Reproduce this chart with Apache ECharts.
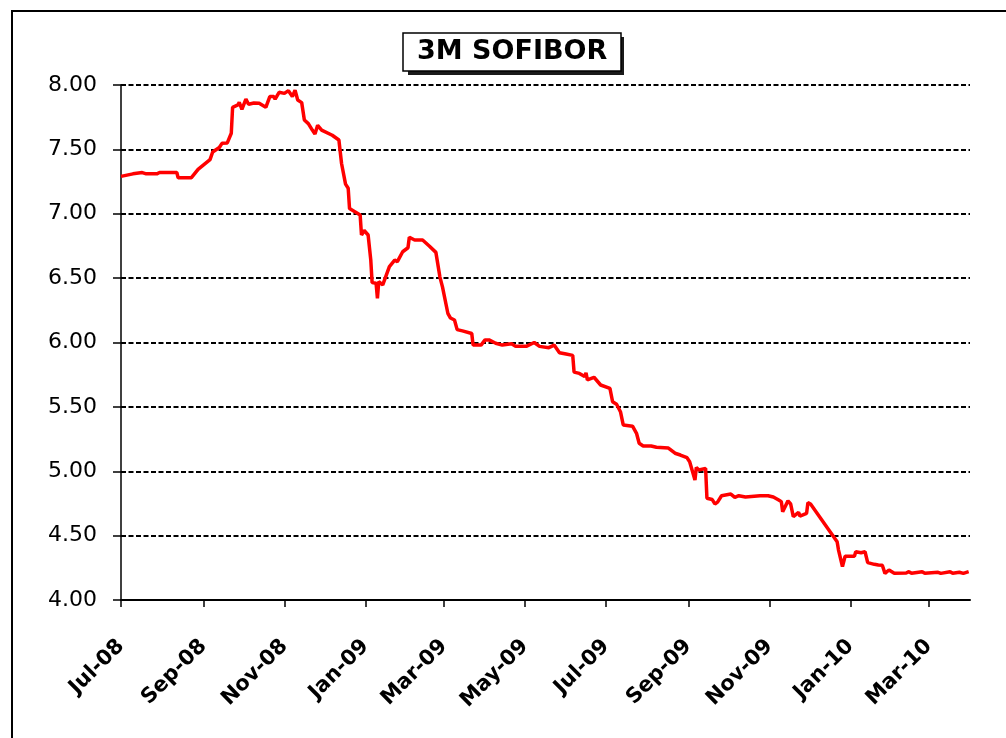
<!DOCTYPE html>
<html lang="en">
	<head>
		<meta charset="UTF-8">
		<title>3M SOFIBOR</title>
		<style>
			html, body { margin: 0; padding: 0; background: #fff; }
		</style>
	</head>

	<body>
		<!-- chart container -->
		<div id="main" style="width: 1006px;height:738px;"></div>

		<script type="text/javascript" src="https://cdn.jsdelivr.net/npm/echarts@6/dist/echarts.min.js"></script>
		<script type="text/javascript">
			// dates of the 3M SOFIBOR fixings
			var dates = [
				'2008-07-01','2008-07-10','2008-07-17','2008-07-20','2008-07-28','2008-07-30','2008-08-10','2008-08-12',
				'2008-08-13','2008-08-23','2008-08-28','2008-09-06','2008-09-08','2008-09-13','2008-09-15','2008-09-19',
				'2008-09-22','2008-09-23','2008-09-27','2008-09-28','2008-09-30','2008-10-03','2008-10-05','2008-10-09',
				'2008-10-13','2008-10-18','2008-10-19','2008-10-21','2008-10-24','2008-10-25','2008-10-28','2008-11-01',
				'2008-11-04','2008-11-07','2008-11-09','2008-11-10','2008-11-11','2008-11-14','2008-11-16','2008-11-19',
				'2008-11-20','2008-11-22','2008-11-24','2008-11-26','2008-11-29','2008-12-07','2008-12-12','2008-12-13',
				'2008-12-14','2008-12-17','2008-12-19','2008-12-20','2008-12-24','2008-12-28','2008-12-29','2008-12-31',
				'2009-01-03','2009-01-05','2009-01-06','2009-01-09','2009-01-10','2009-01-11','2009-01-14','2009-01-19',
				'2009-01-23','2009-01-25','2009-01-29','2009-02-02','2009-02-03','2009-02-07','2009-02-13','2009-02-18',
				'2009-02-23','2009-02-26','2009-02-28','2009-03-04','2009-03-06','2009-03-09','2009-03-11','2009-03-15',
				'2009-03-22','2009-03-23','2009-03-29','2009-04-01','2009-04-04','2009-04-09','2009-04-14','2009-04-21',
				'2009-04-24','2009-05-02','2009-05-08','2009-05-12','2009-05-19','2009-05-23','2009-05-27','2009-06-01',
				'2009-06-06','2009-06-07','2009-06-11','2009-06-15','2009-06-16','2009-06-17','2009-06-22','2009-06-27',
				'2009-07-04','2009-07-06','2009-07-09','2009-07-12','2009-07-14','2009-07-21','2009-07-24','2009-07-26',
				'2009-07-29','2009-08-04','2009-08-08','2009-08-17','2009-08-22','2009-08-26','2009-08-31','2009-09-02',
				'2009-09-06','2009-09-07','2009-09-09','2009-09-14','2009-09-15','2009-09-19','2009-09-21','2009-09-23',
				'2009-09-26','2009-10-03','2009-10-06','2009-10-09','2009-10-14','2009-10-25','2009-10-31','2009-11-04',
				'2009-11-08','2009-11-10','2009-11-11','2009-11-15','2009-11-17','2009-11-19','2009-11-23','2009-11-24',
				'2009-11-29','2009-11-30','2009-12-02','2009-12-22','2009-12-23','2009-12-26','2009-12-28','2010-01-04',
				'2010-01-05','2010-01-09','2010-01-12','2010-01-14','2010-01-19','2010-01-20','2010-01-22','2010-01-25',
				'2010-01-27','2010-01-30','2010-02-03','2010-02-12','2010-02-14','2010-02-16','2010-02-24','2010-02-26',
				'2010-03-08','2010-03-10','2010-03-17','2010-03-19','2010-03-24','2010-03-27','2010-03-31'
			];
			// rate, %
			var rates = [
				7.29,7.31,7.32,7.31,7.31,7.32,7.32,7.32,
				7.28,7.28,7.345,7.42,7.48,7.515,7.547,7.55,
				7.625,7.827,7.845,7.865,7.81,7.89,7.85,7.86,
				7.858,7.827,7.83,7.91,7.91,7.89,7.943,7.935,
				7.956,7.91,7.96,7.96,7.883,7.863,7.728,7.70,
				7.70,7.65,7.62,7.687,7.65,7.61,7.573,7.56,
				7.39,7.23,7.198,7.04,7.016,6.99,6.835,6.87,
				6.835,6.64,6.465,6.46,6.343,6.472,6.447,6.59,
				6.64,6.628,6.705,6.736,6.817,6.796,6.796,6.75,
				6.70,6.51,6.43,6.227,6.19,6.175,6.10,6.09,
				6.07,5.98,5.98,6.02,6.02,5.994,5.98,5.99,
				5.97,5.97,6.00,5.97,5.96,5.98,5.92,5.91,
				5.90,5.77,5.76,5.735,5.765,5.71,5.73,5.67,
				5.644,5.54,5.52,5.46,5.36,5.35,5.295,5.217,
				5.196,5.196,5.186,5.18,5.14,5.126,5.105,5.074,
				4.932,5.03,5.01,5.022,4.79,4.78,4.746,4.76,
				4.81,4.823,4.797,4.81,4.80,4.81,4.81,4.80,
				4.777,4.764,4.685,4.77,4.746,4.647,4.68,4.652,
				4.673,4.756,4.746,4.453,4.39,4.26,4.34,4.34,
				4.375,4.367,4.375,4.29,4.277,4.29,4.272,4.27,
				4.207,4.233,4.207,4.21,4.22,4.207,4.22,4.207,
				4.215,4.207,4.22,4.207,4.215,4.207,4.22
			];
			// month ticks on the date axis
			var tickMonths = [
				'2008-07-01','2008-09-01','2008-11-01','2009-01-01','2009-03-01','2009-05-01',
				'2009-07-01','2009-09-01','2009-11-01','2010-01-01','2010-03-01'
			];
			var monthNames = ['Jan','Feb','Mar','Apr','May','Jun','Jul','Aug','Sep','Oct','Nov','Dec'];

			function toTime(s) {
				var p = s.split('-');
				return new Date(+p[0], +p[1] - 1, +p[2]).getTime();
			}

			var seriesData = dates.map(function (d, i) { return [toTime(d), rates[i]]; });
			var tickValues = tickMonths.map(toTime);

			var myChart = echarts.init(document.getElementById('main'), null, {renderer: 'canvas'});

			var option = {
				animation: false,
				backgroundColor: '#fff',
				title: {
					text: '3M SOFIBOR',
					left: 403,
					top: 33,
					padding: [5, 14],
					backgroundColor: '#fff',
					borderColor: '#000',
					borderWidth: 1.5,
					textStyle: {
						fontFamily: 'DejaVu Sans',
						fontWeight: 'bold',
						fontSize: 27,
						lineHeight: 28,
						color: '#000'
					}
				},
				graphic: [
					// outer frame
					{
						type: 'rect',
						shape: {x: 12, y: 11, width: 1100, height: 800},
						style: {fill: null, stroke: '#000', lineWidth: 2},
						silent: true
					},
					// drop shadow behind the title box
					{
						type: 'rect',
						z: 0,
						shape: {x: 408, y: 37, width: 216, height: 38},
						style: {fill: '#1a1a1a'},
						silent: true
					}
				],
				grid: {
					left: 121,
					right: 36,
					top: 85,
					bottom: 138
				},
				// dates kept as timestamps on a value axis so the month ticks can be placed exactly
				xAxis: {
					type: 'value',
					min: toTime('2008-07-01'),
					max: toTime('2010-04-01'),
					axisLine: {lineStyle: {color: '#000', width: 2}},
					axisTick: {
						show: true,
						length: 7,
						customValues: tickValues,
						lineStyle: {color: '#000', width: 1.5}
					},
					axisLabel: {
						customValues: tickValues,
						rotate: 45,
						margin: 43,
						fontFamily: 'DejaVu Sans',
						fontWeight: 'bold',
						fontSize: 21,
						color: '#000',
						formatter: function (v) {
							var d = new Date(v);
							var yy = String(d.getFullYear() % 100);
							if (yy.length < 2) yy = '0' + yy;
							return monthNames[d.getMonth()] + '-' + yy;
						}
					},
					splitLine: {show: false}
				},
				yAxis: {
					type: 'value',
					min: 4,
					max: 8,
					interval: 0.5,
					axisLine: {show: true, lineStyle: {color: '#000', width: 1.5}},
					axisTick: {show: true, length: 8, lineStyle: {color: '#000', width: 1.5}},
					axisLabel: {
						margin: 24,
						fontFamily: 'DejaVu Sans',
						fontSize: 22,
						color: '#000',
						formatter: function (v) { return v.toFixed(2); }
					},
					splitLine: {
						show: true,
						lineStyle: {color: '#000', width: 2, type: [5, 2.5]}
					}
				},
				series: [{
					name: '3M SOFIBOR',
					type: 'line',
					data: seriesData,
					showSymbol: false,
					symbol: 'none',
					lineStyle: {color: '#ff0000', width: 3.5},
					itemStyle: {color: '#ff0000'}
				}]
			};

			myChart.setOption(option);
		</script>
	</body>
</html>
